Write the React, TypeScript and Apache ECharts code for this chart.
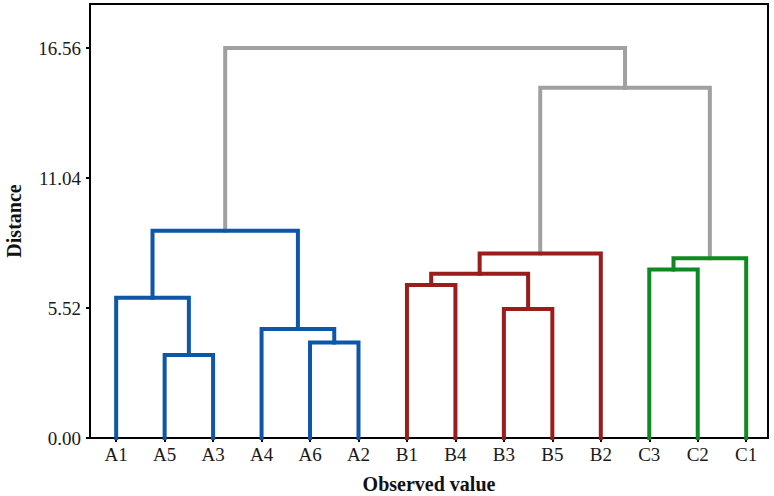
import React, { useEffect, useRef } from "react";
import * as echarts from "echarts";

// Leaves in dendrogram order
const leafLabels = ["A1", "A5", "A3", "A4", "A6", "A2", "B1", "B4", "B3", "B5", "B2", "C3", "C2", "C1"];

// Merges (clusters): name, left child, right child, height, group
const mergeNames = ["A53", "A62", "A462", "A153", "A", "B35", "B14", "B1435", "B", "C32", "C", "BC", "root"];
const mergeLeft = ["A5", "A6", "A4", "A1", "A153", "B3", "B1", "B14", "B1435", "C3", "C32", "B", "A"];
const mergeRight = ["A3", "A2", "A62", "A53", "A462", "B5", "B4", "B35", "B2", "C2", "C1", "C", "BC"];
const mergeHeight = [3.52, 4.06, 4.63, 5.96, 8.8, 5.48, 6.5, 6.98, 7.84, 7.16, 7.63, 14.87, 16.56];
const mergeGroup = ["A", "A", "A", "A", "A", "B", "B", "B", "B", "C", "C", "link", "link"];

const yTicks = [0, 5.52, 11.04, 16.56];

const groupColor: Record<string, string> = {
  A: "#0d56a8",
  B: "#9c1b1b",
  C: "#0f8a22",
  link: "#a0a0a0",
};

const SERIF = "'Liberation Serif', 'Times New Roman', serif";

export default function App() {
  const ref = useRef<HTMLDivElement>(null);

  useEffect(() => {
    if (!ref.current) return;
    const chart = echarts.init(ref.current, null, { renderer: "svg" });

    const pos: Record<string, { x: number; h: number }> = {};
    leafLabels.forEach((l, i) => (pos[l] = { x: i + 1, h: 0 }));
    const series: any[] = [];
    mergeNames.forEach((name, i) => {
      const L = pos[mergeLeft[i]];
      const R = pos[mergeRight[i]];
      const h = mergeHeight[i];
      pos[name] = { x: (L.x + R.x) / 2, h };
      series.push({
        type: "line",
        name,
        data: [
          [L.x, L.h],
          [L.x, h],
          [R.x, h],
          [R.x, R.h],
        ],
        showSymbol: false,
        symbol: "none",
        silent: true,
        z: mergeGroup[i] === "link" ? 1 : 2,
        lineStyle: {
          color: groupColor[mergeGroup[i]],
          width: 4,
          cap: "square",
          join: "miter",
        },
      });
    });

    const xTicks = leafLabels.map((_, i) => i + 1);

    chart.setOption({
      animation: false,
      backgroundColor: "#ffffff",
      grid: {
        left: 90,
        top: 4,
        width: 678,
        height: 434,
        containLabel: false,
        outerBoundsMode: "none",
        show: true,
        borderColor: "#000",
        borderWidth: 2,
        backgroundColor: "transparent",
      },
      xAxis: {
        type: "value",
        min: 0.46,
        max: 14.45,
        name: "Observed value",
        nameLocation: "middle",
        nameGap: 36,
        nameTextStyle: { fontFamily: SERIF, fontSize: 20, fontWeight: "bold", color: "#111" },
        splitLine: { show: false },
        axisLine: { show: true, lineStyle: { color: "#000", width: 2 } },
        axisTick: { show: true, customValues: xTicks, length: 4, lineStyle: { color: "#000", width: 2 } },
        axisLabel: {
          customValues: xTicks,
          formatter: (v: number) => leafLabels[Math.round(v) - 1] ?? "",
          fontFamily: SERIF,
          fontSize: 19,
          color: "#1a1a1a",
          margin: 7,
        },
      },
      yAxis: {
        type: "value",
        min: 0,
        max: 18.43,
        name: "Distance",
        nameLocation: "middle",
        nameGap: 66,
        nameTextStyle: { fontFamily: SERIF, fontSize: 20, fontWeight: "bold", color: "#111" },
        splitLine: { show: false },
        axisLine: { show: true, lineStyle: { color: "#000", width: 2 } },
        axisTick: { show: true, customValues: yTicks, length: 4, lineStyle: { color: "#000", width: 2 } },
        axisLabel: {
          customValues: yTicks,
          formatter: (v: number) => v.toFixed(2),
          fontFamily: SERIF,
          fontSize: 19,
          color: "#1a1a1a",
          margin: 9,
        },
      },
      series,
    });

    return () => chart.dispose();
  }, []);

  return (
    <div
      ref={ref}
      style={{ position: "fixed", left: 0, top: 0, width: 774, height: 496, background: "#fff" }}
    />
  );
}
